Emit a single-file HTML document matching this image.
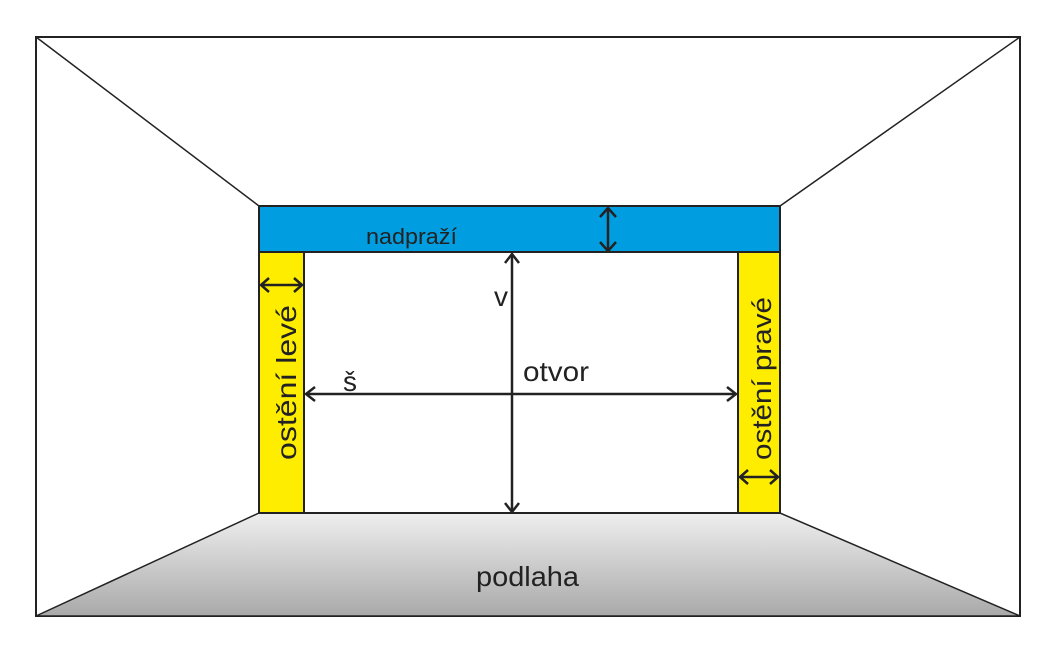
<!DOCTYPE html>
<html><head><meta charset="utf-8"><style>body{margin:0;background:#fff}svg{display:block}text{font-family:"Liberation Sans",sans-serif;fill:#222}</style></head><body>
<svg width="1061" height="647" viewBox="0 0 1061 647" xmlns="http://www.w3.org/2000/svg">
<defs><linearGradient id="g" x1="0" y1="0" x2="0" y2="1"><stop offset="0" stop-color="#efefef"/><stop offset="1" stop-color="#a9a9a9"/></linearGradient></defs>
<rect x="36" y="37" width="984" height="579" fill="#fff" stroke="#222" stroke-width="2"/>
<polygon points="259,513 780,513 1020,616 36,616" fill="url(#g)" stroke="#222" stroke-width="1.5"/>
<line x1="36" y1="37" x2="259" y2="206" stroke="#222" stroke-width="1.5"/>
<line x1="1020" y1="37" x2="780" y2="206" stroke="#222" stroke-width="1.5"/>
<rect x="259" y="206" width="521" height="46" fill="#009ee0" stroke="#222" stroke-width="2"/>
<rect x="259" y="252" width="45" height="261" fill="#ffed00" stroke="#222" stroke-width="2"/>
<rect x="738" y="252" width="42" height="261" fill="#ffed00" stroke="#222" stroke-width="2"/>
<line x1="259" y1="513" x2="780" y2="513" stroke="#222" stroke-width="2"/>
<g stroke="#222" stroke-width="2.5" fill="none">
<line x1="608" y1="208" x2="608" y2="251"/><polyline points="600,217 608,208 616,217"/><polyline points="600,242 608,251 616,242"/>
<line x1="512" y1="254" x2="512" y2="512"/><polyline points="505,263 512,254 519,263"/><polyline points="505,503 512,512 519,503"/>
<line x1="306" y1="394" x2="736" y2="394"/><polyline points="315,387 306,394 315,401"/><polyline points="727,387 736,394 727,401"/>
<line x1="261" y1="285" x2="302" y2="285"/><polyline points="269,278 261,285 269,292"/><polyline points="294,278 302,285 294,292"/>
<line x1="740" y1="477" x2="778" y2="477"/><polyline points="748,470 740,477 748,484"/><polyline points="770,470 778,477 770,484"/>
</g>
<text x="366" y="244" font-size="22" textLength="91" lengthAdjust="spacingAndGlyphs">nadpraží</text>
<text x="501" y="306" font-size="28" text-anchor="middle">v</text>
<text x="350" y="391" font-size="28" text-anchor="middle">š</text>
<text x="523" y="381" font-size="28" textLength="66" lengthAdjust="spacingAndGlyphs">otvor</text>
<text x="476" y="586" font-size="28" textLength="103" lengthAdjust="spacingAndGlyphs">podlaha</text>
<text transform="translate(296,460) rotate(-90)" font-size="28" textLength="155" lengthAdjust="spacingAndGlyphs">ostění levé</text>
<text transform="translate(771,460) rotate(-90)" font-size="27" textLength="163" lengthAdjust="spacingAndGlyphs">ostění pravé</text>
</svg>
</body></html>
